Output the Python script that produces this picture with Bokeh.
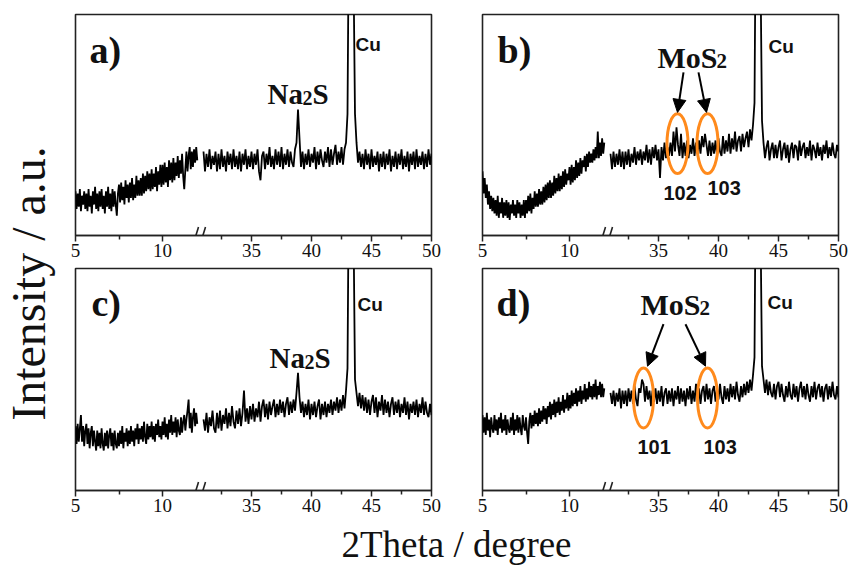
import numpy as np
from bokeh.plotting import figure
from bokeh.layouts import row, column
from bokeh.models import Range1d, FixedTicker, Arrow, NormalHead
from bokeh.core.properties import value
from bokeh.embed import file_html
from bokeh.resources import INLINE

# ---------------- data ----------------
two_theta_low = np.arange(5.0, 12.0001, 0.0625)    # 113 points
two_theta_high = np.arange(31.0, 50.0001, 0.125)   # 153 points

a_low = [20, 12, 19, 13, 21, 11, 18, 14, 20, 12,
         19, 11, 21, 13, 18, 10, 20, 14, 22, 12,
         19, 11, 20, 13, 21, 12, 18, 10, 20, 13,
         22, 12, 19, 11, 21, 13, 20, 14, 9, 19,
         23, 15, 24, 16, 22, 14, 25, 17, 23, 15,
         24, 17, 26, 16, 23, 17, 27, 18, 25, 18,
         26, 18, 28, 19, 27, 20, 29, 21, 28, 20,
         30, 21, 28, 22, 31, 20, 29, 23, 32, 22,
         32, 23, 33, 24, 31, 22, 34, 25, 33, 24,
         35, 25, 33, 27, 36, 26, 34, 28, 37, 27,
         21, 30, 38, 29, 36, 40, 30, 38, 31, 39,
         33, 40, 34]
a_high = [38, 29, 37, 31, 39, 30, 36, 32, 38, 29,
          37, 30, 39, 31, 36, 29, 38, 32, 37, 30,
          39, 31, 36, 30, 38, 29, 37, 32, 39, 30,
          36, 31, 38, 30, 37, 32, 39, 29, 25, 36,
          38, 30, 37, 32, 40, 31, 36, 30, 39, 32,
          38, 31, 40, 30, 37, 32, 39, 31, 38, 33,
          31, 39, 42, 57, 44, 31, 38, 30, 37, 32,
          39, 31, 37, 33, 40, 30, 38, 32, 39, 34,
          31, 38, 33, 40, 31, 39, 32, 37, 41, 32,
          38, 33, 40, 32, 39, 42, 55, 150, 400, 400,
          120, 55, 42, 33, 38, 31, 37, 30, 39, 32,
          37, 30, 39, 31, 36, 32, 38, 29, 37, 31,
          38, 30, 37, 32, 39, 29, 36, 31, 38, 30,
          37, 32, 39, 30, 36, 31, 38, 29, 37, 32,
          38, 30, 39, 31, 36, 32, 38, 30, 37, 31,
          39, 32, 37]

b_low = [29, 19, 26, 17, 23, 14, 20, 12, 18, 11,
         17, 10, 16, 9, 18, 8, 15, 10, 17, 8,
         15, 9, 16, 8, 15, 7, 14, 10, 16, 9,
         14, 8, 16, 10, 15, 8, 14, 9, 16, 8,
         16, 10, 18, 11, 19, 10, 17, 12, 20, 13,
         19, 13, 21, 14, 20, 14, 22, 15, 23, 16,
         24, 17, 25, 17, 24, 18, 27, 19, 26, 20,
         28, 20, 27, 21, 29, 22, 30, 23, 28, 25,
         31, 23, 32, 24, 31, 25, 34, 26, 33, 27,
         35, 28, 34, 31, 36, 29, 37, 31, 38, 33,
         37, 33, 39, 34, 40, 35, 47, 35, 42, 36,
         44, 37, 42]
b_high = [37, 30, 38, 31, 37, 32, 39, 31, 38, 30,
          38, 32, 39, 31, 37, 33, 40, 32, 38, 34,
          39, 32, 38, 34, 41, 33, 39, 32, 40, 35,
          41, 34, 39, 26, 40, 34, 42, 35, 40, 36,
          42, 36, 47, 38, 49, 41, 36, 46, 35, 42,
          36, 43, 35, 41, 37, 44, 36, 42, 37, 43,
          37, 45, 40, 46, 41, 36, 43, 36, 42, 37,
          43, 36, 44, 38, 36, 45, 37, 43, 38, 46,
          37, 44, 39, 47, 38, 43, 45, 38, 46, 40,
          44, 47, 40, 48, 43, 50, 60, 160, 400, 400,
          120, 52, 42, 35, 40, 43, 34, 39, 42, 35,
          41, 35, 40, 43, 34, 39, 42, 35, 41, 33,
          39, 42, 35, 41, 40, 34, 43, 36, 40, 42,
          35, 40, 36, 43, 34, 41, 39, 35, 42, 36,
          40, 34, 41, 37, 43, 35, 40, 36, 42, 37,
          35, 41, 38]

c_low = [29, 21, 30, 22, 28, 34, 22, 29, 20, 27,
         30, 21, 28, 19, 26, 29, 20, 27, 22, 18,
         27, 20, 26, 19, 28, 21, 18, 26, 20, 27,
         19, 25, 28, 20, 26, 18, 27, 21, 19, 26,
         20, 27, 21, 29, 19, 26, 22, 28, 20, 27,
         21, 29, 22, 27, 20, 28, 23, 30, 21, 28,
         23, 29, 22, 31, 24, 21, 30, 23, 29, 24,
         31, 23, 29, 22, 30, 25, 32, 24, 29, 23,
         31, 25, 33, 24, 30, 23, 32, 26, 34, 25,
         31, 26, 33, 24, 32, 27, 25, 33, 26, 31,
         34, 27, 32, 36, 41, 28, 35, 26, 33, 37,
         29, 35, 30]
c_high = [32, 27, 35, 26, 33, 29, 36, 28, 26, 35,
          28, 36, 27, 34, 30, 37, 28, 35, 29, 38,
          31, 28, 36, 30, 37, 29, 35, 45, 31, 37,
          30, 38, 32, 39, 31, 37, 33, 40, 31, 38,
          41, 33, 39, 32, 40, 34, 38, 41, 33, 39,
          34, 41, 35, 40, 33, 39, 42, 34, 40, 35,
          41, 36, 44, 53, 42, 35, 40, 33, 39, 34,
          41, 32, 39, 34, 40, 33, 38, 41, 32, 39,
          34, 40, 33, 39, 35, 41, 34, 40, 36, 42,
          35, 41, 36, 43, 37, 45, 55, 150, 400, 400,
          120, 50, 44, 38, 44, 37, 43, 36, 42, 35,
          41, 34, 40, 43, 35, 42, 33, 40, 36, 43,
          34, 41, 35, 40, 33, 39, 42, 34, 40, 35,
          41, 33, 39, 35, 42, 34, 40, 32, 39, 35,
          40, 34, 41, 33, 39, 35, 42, 34, 40, 35,
          33, 39, 34]

d_low = [34, 26, 33, 25, 35, 27, 32, 24, 33, 28,
         26, 34, 27, 32, 25, 33, 28, 35, 26, 32,
         27, 34, 25, 32, 28, 26, 33, 27, 35, 25,
         32, 27, 34, 26, 33, 28, 25, 34, 29, 27,
         33, 26, 21, 31, 35, 28, 34, 29, 36, 30,
         35, 29, 37, 30, 36, 31, 38, 32, 37, 30,
         38, 33, 40, 32, 39, 34, 41, 33, 40, 35,
         42, 34, 40, 36, 43, 35, 41, 37, 44, 36,
         43, 37, 45, 38, 44, 39, 46, 38, 45, 40,
         47, 39, 45, 41, 48, 40, 46, 41, 49, 42,
         47, 41, 48, 42, 50, 41, 47, 43, 49, 42,
         48, 42, 46]
d_high = [44, 39, 45, 38, 44, 40, 46, 37, 45, 39,
          45, 38, 46, 40, 45, 39, 47, 41, 38, 46,
          44, 50, 48, 40, 47, 41, 45, 38, 45, 40,
          46, 39, 45, 40, 47, 38, 44, 46, 39, 45,
          40, 46, 38, 45, 41, 47, 39, 46, 40, 45,
          38, 46, 41, 47, 39, 45, 40, 48, 41, 46,
          39, 45, 47, 40, 48, 41, 46, 39, 45, 47,
          40, 46, 41, 48, 42, 39, 47, 41, 46, 40,
          48, 42, 47, 41, 49, 43, 40, 47, 42, 48,
          43, 49, 44, 50, 45, 52, 60, 160, 400, 400,
          120, 56, 50, 44, 50, 43, 49, 44, 42, 48,
          41, 47, 49, 42, 48, 43, 40, 47, 42, 49,
          43, 41, 48, 42, 47, 40, 46, 49, 42, 47,
          41, 48, 43, 40, 47, 42, 49, 41, 46, 48,
          42, 47, 40, 46, 48, 41, 47, 42, 49, 43,
          41, 47, 42]

tick_values = [5, 10, 35, 40, 45, 50]
tick_labels = ["5", "10", "35", "40", "45", "50"]
minor_values = [7.5, 32.5, 37.5, 42.5, 47.5]

# ---------------- helpers ----------------
SERIF = "Liberation Serif"
SANS = "Liberation Sans"
ORANGE = "#FF8A1C"
INK = "#111111"
MID = 0.3375   # distance baseline -> middle of em box, in em


def to_u(x):
    """broken axis: 5-12 and 31-50 mapped onto one pixel-like coordinate"""
    x = np.asarray(x, dtype=float)
    return np.where(x <= 20, (x - 5.0) * 17.4, 128.0 + (x - 31.0) * 12.0)


def clean(vals):
    out = []
    for v in vals:
        v = round(float(v), 3)
        out.append(int(v) if v == int(v) else v)
    return out


def make_panel(low, high, width, height, bl, br, bt, bb):
    p = figure(width=width, height=height, x_range=Range1d(0, 356), y_range=Range1d(0, 100),
               output_backend="svg", toolbar_location=None, y_axis_location=None,
               min_border_left=bl, min_border_right=br, min_border_top=bt, min_border_bottom=bb)
    p.grid.visible = False
    p.outline_line_color = "#222222"
    p.outline_line_width = 1.6
    p.outline_line_alpha = 1.0
    ux = clean(to_u(tick_values))
    p.xaxis.ticker = FixedTicker(ticks=ux, minor_ticks=clean(to_u(minor_values)))
    p.xaxis.major_label_overrides = {k: lab for k, lab in zip(ux, tick_labels)}
    p.xaxis.axis_line_color = "#222222"
    p.xaxis.axis_line_width = 1.6
    p.xaxis.major_tick_line_color = "#222222"
    p.xaxis.major_tick_line_width = 1.5
    p.xaxis.minor_tick_line_color = "#222222"
    p.xaxis.minor_tick_line_width = 1.5
    p.xaxis.major_tick_in = 0
    p.xaxis.major_tick_out = 6
    p.xaxis.minor_tick_in = 0
    p.xaxis.minor_tick_out = 4
    p.xaxis.major_label_standoff = 2
    p.xaxis.major_label_text_font = SERIF
    p.xaxis.major_label_text_font_size = "19px"
    p.xaxis.major_label_text_color = INK
    p.line(to_u(two_theta_low), low, line_color="black", line_width=1.8)
    p.line(to_u(two_theta_high), high, line_color="black", line_width=1.8)
    # axis-break marks "//"
    for u0 in (119, 126):
        p.add_layout(Arrow(end=None, x_start=u0, y_start=-2.0, x_end=u0 + 4, y_end=3.8,
                           line_color="#222222", line_width=1.6))
    return p


def add_text(p, x, y, txt, font, size, style="bold", x_offset=0, drop=0):
    p.text(x=[x], y=[y], text=[txt], text_font=value(font), text_font_size=value(f"{size}px"),
           text_font_style=style, text_align="left", text_baseline="middle",
           x_offset=x_offset, y_offset=-MID * size + drop, text_color=INK)


def add_formula(p, x, y, first, sub, last, big, small, w_first, w_sub):
    add_text(p, x, y, first, SERIF, big)
    add_text(p, x, y, sub, SERIF, small, x_offset=w_first, drop=1)
    if last:
        add_text(p, x, y, last, SERIF, big, x_offset=w_first + w_sub)


def add_ring(p, xs, y, w, h):
    p.ellipse(x=xs, y=[y] * len(xs), width=w, height=h, fill_color=None,
              line_color=ORANGE, line_width=3)


def add_arrow(p, x0, y0, x1, y1):
    p.add_layout(Arrow(end=NormalHead(size=13, fill_color="black", line_color="black"),
                       x_start=x0, y_start=y0, x_end=x1, y_end=y1,
                       line_color="black", line_width=2))


# ---------------- panels ----------------
pa = make_panel(a_low, a_high, 393, 267, 13, 24, 14, 32)
pb = make_panel(b_low, b_high, 393, 267, 27, 10, 14, 32)
pc = make_panel(c_low, c_high, 393, 255, 13, 24, 1, 32)
pd = make_panel(d_low, d_high, 393, 255, 27, 10, 1, 32)

# panel letters
add_text(pa, 14, 78.3, "a)", SERIF, 38)
add_text(pb, 15, 78.3, "b)", SERIF, 38)
add_text(pc, 16, 78.5, "c)", SERIF, 38)
add_text(pd, 14, 78.5, "d)", SERIF, 38)

# Cu labels
add_text(pa, 280, 83.7, "Cu", SANS, 19)
add_text(pb, 286, 82.4, "Cu", SANS, 19)
add_text(pc, 282, 80.7, "Cu", SANS, 19)
add_text(pd, 285, 81.6, "Cu", SANS, 19)

# Na2S labels
add_formula(pa, 192, 59.7, "Na", "2", "S", 29, 20, 35, 10)
add_formula(pc, 194, 55.2, "Na", "2", "S", 29, 20, 35, 10)

# MoS2 labels
add_formula(pb, 175, 76.0, "MoS", "2", "", 30, 21, 59, 0)
add_formula(pd, 158, 79.4, "MoS", "2", "", 30, 21, 59, 0)

# rings, arrows, indices
add_ring(pb, [195, 225], 41.6, 21, 27)
add_arrow(pb, 201, 73.8, 195, 55.7)
add_arrow(pb, 216, 73.8, 224, 55.7)
add_text(pb, 181, 16.0, "102", SANS, 20)
add_text(pb, 225, 18.5, "103", SANS, 20)

add_ring(pd, [161, 225], 41.7, 20, 27)
add_arrow(pd, 181, 74.9, 165, 56.0)
add_arrow(pd, 203, 74.9, 223, 56.0)
add_text(pd, 155, 16.6, "101", SANS, 20)
add_text(pd, 221, 16.6, "103", SANS, 20)

# ---------------- axis titles (strips) ----------------
ylab = figure(width=62, height=567, x_range=Range1d(0, 62), y_range=Range1d(0, 567),
              output_backend="svg", toolbar_location=None, x_axis_location=None,
              y_axis_location=None, min_border=0, outline_line_color=None)
ylab.grid.visible = False
ylab.text(x=[28], y=[284], text=["Intensity / a.u."], angle=np.pi / 2,
          text_font=value(SERIF), text_font_size=value("48px"), text_align="center",
          text_baseline="middle", text_color=INK)

xlab = figure(width=786, height=45, x_range=Range1d(0, 786), y_range=Range1d(0, 45),
              output_backend="svg", toolbar_location=None, x_axis_location=None,
              y_axis_location=None, min_border=0, outline_line_color=None)
xlab.grid.visible = False
xlab.text(x=[394], y=[23.5], text=["2Theta / degree"], text_font=value(SERIF),
          text_font_size=value("37px"), text_align="center", text_baseline="middle",
          text_color=INK)

layout = row(ylab, column(row(pa, pb), row(pc, pd), xlab))

open("out.html", "w").write(file_html(layout, INLINE))
